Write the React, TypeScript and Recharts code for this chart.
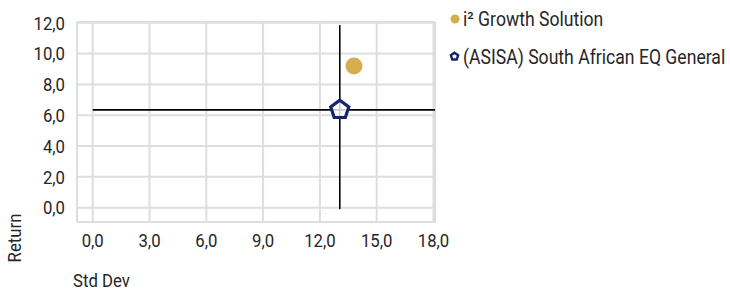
import {
  ScatterChart,
  Scatter,
  XAxis,
  YAxis,
  CartesianGrid,
  ReferenceLine,
} from "recharts";

const seriesNames = ["i² Growth Solution", "(ASISA) South African EQ General"];
const seriesColors = ["#d4ae4d", "#16256b"];
const stdDevs = [13.8, 13.05];
const returns = [9.2, 6.35];
const xTicks = [0, 3, 6, 9, 12, 15, 18];
const yTicks = [0, 2, 4, 6, 8, 10, 12];

const FONT = "Roboto, sans-serif";
const FS = 19;
const SX = 0.88;
const TEXT = "#262626";

const fmt = (v: number) => v.toFixed(1).replace(".", ",");

function pentagonPath(cx: number, cy: number, r: number) {
  const pts: string[] = [];
  for (let i = 0; i < 5; i++) {
    const a = -Math.PI / 2 + (i * 2 * Math.PI) / 5;
    pts.push(`${cx + r * Math.cos(a)},${cy + r * Math.sin(a)}`);
  }
  return `M${pts.join("L")}Z`;
}

const Dot = (props: any) => (
  <circle cx={props.cx} cy={props.cy} r={8.5} fill={seriesColors[0]} />
);

const Pentagon = (props: any) => (
  <path
    d={pentagonPath(props.cx, props.cy, 9.5)}
    fill="#ffffff"
    fillOpacity={0.8}
    stroke={seriesColors[1]}
    strokeWidth={3.2}
  />
);

const XTick = ({ x, y, payload }: any) => (
  <text
    transform={`translate(${x},${y}) scale(${SX},1)`}
    textAnchor="middle"
    dy="0.71em"
    fill={TEXT}
    fontSize={FS}
    fontFamily={FONT}
  >
    {fmt(payload.value)}
  </text>
);

const YTick = ({ x, y, payload }: any) => (
  <text
    transform={`translate(${x},${y}) scale(${SX},1)`}
    textAnchor="end"
    dy="0.355em"
    fill={TEXT}
    fontSize={FS}
    fontFamily={FONT}
  >
    {fmt(payload.value)}
  </text>
);

const textStyle = {
  position: "absolute" as const,
  fontFamily: FONT,
  fontSize: FS,
  color: TEXT,
  whiteSpace: "nowrap" as const,
  lineHeight: "16px",
};

function LegendBox() {
  return (
    <div style={{ position: "absolute", left: 448, top: 0 }}>
      {seriesNames.map((name, i) => (
        <div key={name} style={{ position: "relative", height: 38, width: 280 }}>
          <svg width={14} height={14} style={{ position: "absolute", left: 0, top: i === 0 ? 12 : 11 }}>
            {i === 0 ? (
              <circle cx={7} cy={7} r={4.5} fill={seriesColors[0]} />
            ) : (
              <path d={pentagonPath(6.5, 7.5, 3.8)} fill="#fff" stroke={seriesColors[1]} strokeWidth={2.4} />
            )}
          </svg>
          <div
            style={{
              ...textStyle,
              fontSize: 20,
              left: 15,
              top: 11,
              transform: `scaleX(${SX})`,
              transformOrigin: "left center",
            }}
          >
            {name}
          </div>
        </div>
      ))}
    </div>
  );
}

export default function App() {
  const seriesData = seriesNames.map((_, i) => [{ x: stdDevs[i], y: returns[i] }]);
  return (
    <div style={{ position: "absolute", left: 0, top: 0, width: 730, height: 291 }}>
      <ScatterChart width={730} height={291} margin={{ top: 22, right: 295, bottom: 0, left: 0 }}>
        <CartesianGrid stroke="#dedede" strokeWidth={2} />
        <XAxis
          type="number"
          dataKey="x"
          domain={[-0.83, 18.08]}
          ticks={xTicks}
          allowDataOverflow
          axisLine={false}
          tickLine={false}
          tickSize={0}
          tickMargin={11}
          height={69}
          tick={<XTick />}
        />
        <YAxis
          type="number"
          dataKey="y"
          domain={[-0.93, 12.05]}
          ticks={yTicks}
          allowDataOverflow
          axisLine={false}
          tickLine={false}
          tickSize={0}
          tickMargin={12}
          width={77}
          tick={<YTick />}
        />
        <ReferenceLine
          segment={[
            { x: 0, y: returns[1] },
            { x: 18.08, y: returns[1] },
          ]}
          stroke="#000"
          strokeWidth={1.6}
        />
        <ReferenceLine
          segment={[
            { x: stdDevs[1], y: -0.1 },
            { x: stdDevs[1], y: 11.85 },
          ]}
          stroke="#000"
          strokeWidth={1.6}
        />
        <Scatter name={seriesNames[0]} data={seriesData[0]} fill={seriesColors[0]} shape={Dot} isAnimationActive={false} />
        <Scatter name={seriesNames[1]} data={seriesData[1]} fill={seriesColors[1]} shape={Pentagon} isAnimationActive={false} />
      </ScatterChart>
      <LegendBox />
      <div
        style={{
          ...textStyle,
          left: 15,
          top: 238,
          transform: `translate(-50%, -50%) rotate(-90deg) scaleX(${SX})`,
        }}
      >
        Return
      </div>
      <div
        style={{
          ...textStyle,
          left: 73,
          top: 273,
          transform: `scaleX(${SX})`,
          transformOrigin: "left center",
        }}
      >
        Std Dev
      </div>
    </div>
  );
}
